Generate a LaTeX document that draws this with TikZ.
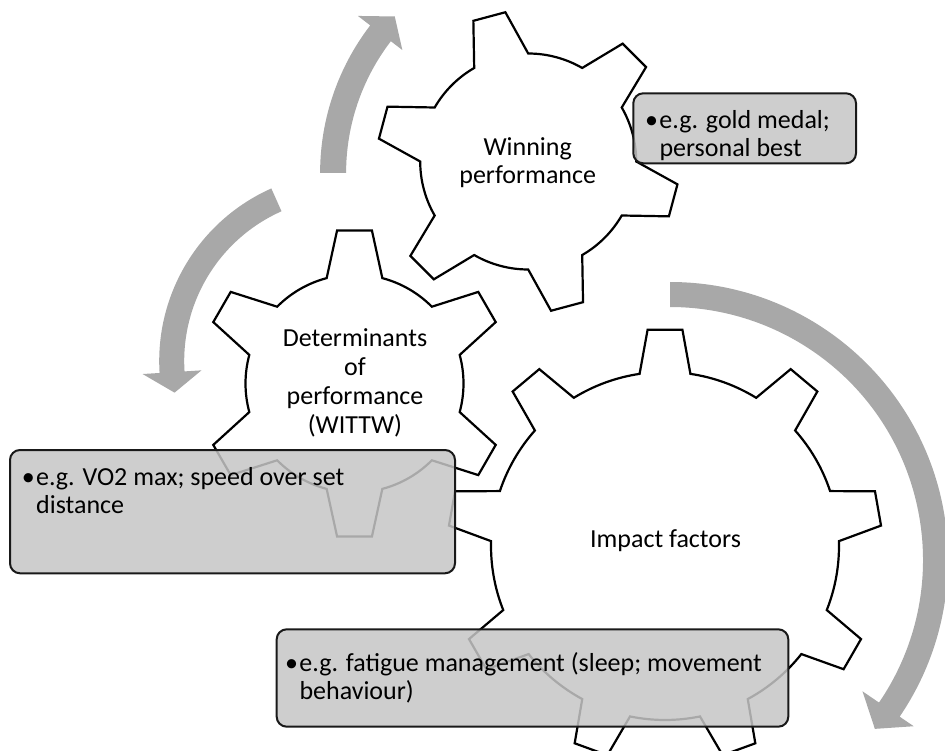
\documentclass[tikz,border=0pt]{standalone}
\usepackage{fontspec}
\setmainfont{Carlito}
\definecolor{arrowgray}{RGB}{168,168,168}
\definecolor{boxgray}{RGB}{198,198,198}
\tikzset{
  gearline/.style={draw=black, line width=2.2pt, fill=white, line join=miter},
  infobox/.style={draw=black!90, line width=2pt, fill=boxgray, fill opacity=0.85, rounded corners=10pt},
  arrowband/.style={fill=arrowgray, draw=none},
  lbl/.style={inner sep=0pt, font=\fontsize{26}{28.5}\selectfont, text=black},
}
% #1,#2 centre, #3 teeth, #4 first tooth angle, #5 inner r, #6 outer r, #7 base half angle, #8 tip half angle
\newcommand{\drawgear}[8]{%
  \begin{scope}[shift={(#1,#2)}]
    \pgfmathsetmacro\gs{360/#3}
    \draw[gearline] ({#4+#7}:#5)
      \foreach \k in {1,...,#3}{
        arc[start angle={#4+(\k-1)*\gs+#7}, end angle={#4+\k*\gs-#7}, radius=#5]
        -- ({#4+\k*\gs-#8}:#6) -- ({#4+\k*\gs+#8}:#6) -- ({#4+\k*\gs+#7}:#5)
      } -- cycle;
  \end{scope}}
% #1,#2 centre, #3 inner r, #4 outer r, #5 start angle, #6 head base angle, #7,#8 head radii, #9 tip angle
\newcommand{\arcarrow}[9]{%
  \begin{scope}[shift={(#1,#2)}]
    \fill[arrowband] (#5:#4) arc[start angle=#5, end angle=#6, radius=#4]
      -- (#6:#8) -- ({#9}:{(#3+#4)/2}) -- (#6:#7) -- (#6:#3)
      arc[start angle=#6, end angle=#5, radius=#3] -- cycle;
  \end{scope}}
\begin{document}
\begin{tikzpicture}[x=1pt,y=1pt]
\useasboundingbox (0,0) rectangle (945,-751);

% arrows
\arcarrow{562.6}{-173}{216.5}{242.5}{180}{142.5}{202}{258}{137}
\arcarrow{348.2}{-361.1}{164}{189}{114}{183.6}{147}{206}{190.3}
\arcarrow{670}{-560}{253}{278}{90}{-34.3}{233}{295}{-39.5}

% gears
\drawgear{528.2}{-161.5}{6}{105}{108}{151}{15}{6.3}
\drawgear{354.5}{-383.5}{6}{30}{109}{154}{14.8}{6.5}
\drawgear{665}{-546}{9}{10}{174}{217}{8.4}{4.6}

% gear labels
\node[lbl, anchor=base] (wp1) at (527.7,-155.7) {Winning};
\node[lbl, anchor=base] (wp2) at (527.7,-183.8) {performance};
\node[lbl, anchor=base] (dp1) at (355,-346.7) {Determinants};
\node[lbl, anchor=base] (dp2) at (355,-375.5) {of};
\node[lbl, anchor=base] (dp3) at (355,-404.3) {performance};
\node[lbl, anchor=base] (dp4) at (355,-433.1) {(WITTW)};
\node[lbl, anchor=base] (if1) at (665.5,-547) {Impact factors};

% boxes
\draw[infobox] (633.3,-93.3) rectangle (856,-163.3);
\draw[infobox] (10,-450) rectangle (455,-573.3);
\draw[infobox] (276.7,-629.3) rectangle (788.3,-726.7);

% box texts
\node[lbl, anchor=base west] (b1a) at (659.3,-128.3) {\makebox[0pt][r]{•\hspace{1.5pt}}e.g. gold medal;};
\node[lbl, anchor=base west] (b1b) at (659.3,-156.7) {personal best};
\node[lbl, anchor=base west] (b2a) at (36,-485) {\makebox[0pt][r]{•\hspace{1.5pt}}e.g. VO2 max; speed over set};
\node[lbl, anchor=base west] (b2b) at (36,-513.3) {distance};
\node[lbl, anchor=base west] (b3a) at (299.3,-671.5) {\makebox[0pt][r]{•\hspace{1.5pt}}e.g. fatigue management (sleep; movement};
\node[lbl, anchor=base west] (b3b) at (299.3,-699.5) {behaviour)};
\end{tikzpicture}
\end{document}
